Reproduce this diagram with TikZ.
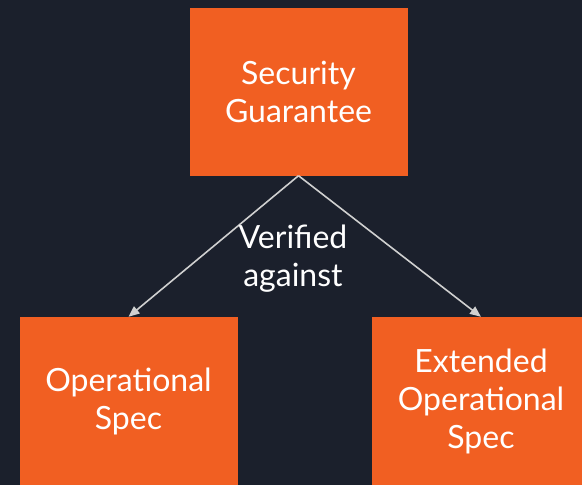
\documentclass[tikz,border=0pt]{standalone}
\usepackage{fontspec}
\setmainfont{Lato}
\usetikzlibrary{arrows.meta}
\definecolor{bgc}{HTML}{1B202C}
\definecolor{boxc}{HTML}{F15F22}
\definecolor{arrc}{HTML}{D0D0D0}
\begin{document}
\begin{tikzpicture}[x=1pt,y=-1pt,
  box/.style={fill=boxc,draw=none,minimum width=218pt,minimum height=168pt,inner sep=0pt,
    text=white,align=center,font=\fontsize{32}{38}\selectfont,
    execute at begin node={\vspace*{6pt}}},
  conn/.style={draw=arrc,line width=1.6pt,-{Triangle[length=11pt,width=9pt]}},
  lbl/.style={text=white,align=center,font=\fontsize{32}{38}\selectfont,inner sep=0pt}]
\useasboundingbox (0,0) rectangle (582,485);
\clip (0,0) rectangle (582,485);
\fill[bgc] (0,0) rectangle (582,485);
\node[box] (top) at (298.5,91.5) {Security\\Guarantee};
\node[box] (left) at (128.5,401) {Operational\\Spec};
\node[box] (right) at (481,401) {Extended\\Operational\\Spec};
\draw[conn] (top.south) -- (left.north);
\draw[conn] (top.south) -- (right.north);
\node[lbl] (lab) at (293,259) {Verified\\against};
\end{tikzpicture}
\end{document}
